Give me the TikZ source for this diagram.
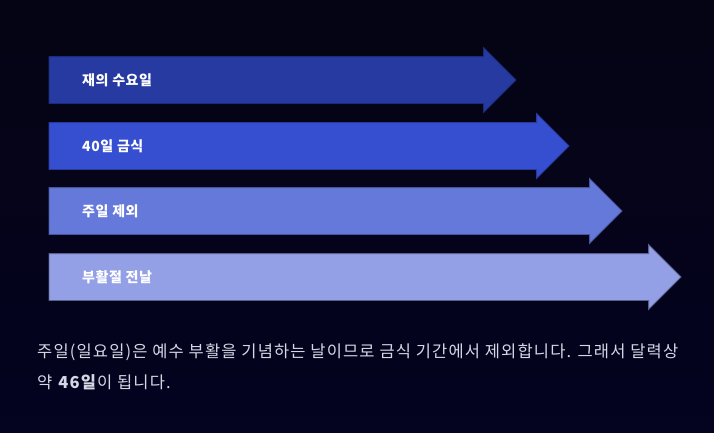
\documentclass[tikz,border=0pt]{standalone}
\usepackage{fontspec}
\setmainfont{Noto Sans CJK KR}
\usepackage{xcolor}
\usetikzlibrary{shapes.arrows, positioning}
\definecolor{BgTop}{RGB}{5,4,20}
\definecolor{BgBot}{RGB}{4,3,32}
\definecolor{StepA}{RGB}{38,58,162}
\definecolor{StepB}{RGB}{53,79,208}
\definecolor{StepC}{RGB}{101,121,219}
\definecolor{StepD}{RGB}{148,160,230}
\definecolor{NoteGray}{RGB}{214,214,228}
\tikzset{
  % frecce orizzontali
  bar/.style={single arrow, anchor=tail, inner sep=0pt, outer sep=0pt,
    text height=46pt, text depth=0pt, minimum width=64pt,
    single arrow head extend=9pt, single arrow tip angle=90, line width=0.8pt},
  bar a/.style={bar, fill=StepA, draw=StepA!75!black},
  bar b/.style={bar, fill=StepB, draw=StepB!75!black},
  bar c/.style={bar, fill=StepC, draw=StepC!70!black},
  bar d/.style={bar, fill=StepD, draw=StepD!60!black},
  % testo
  lbl/.style={anchor=west, inner sep=0pt, text=white,
    font=\fontsize{14}{16}\selectfont\bfseries\addfontfeatures{LetterSpace=4}},
  note/.style={anchor=north west, inner sep=0pt, align=left, text=NoteGray,
    font=\fontsize{16.5}{30.5}\selectfont\addfontfeatures{LetterSpace=7}}
}

\begin{document}
\begin{tikzpicture}[x=1pt, y=-1pt]
    % background
    \shade[top color=BgTop, bottom color=BgBot] (0,0) rectangle (714,432);
    \useasboundingbox (0,0) rectangle (714,432);
    % arrows
    \node[bar a, minimum height=467pt] (a1) at (49,80) {};
    \node[bar b, minimum height=520pt] (a2) at (49,146) {};
    \node[bar c, minimum height=573pt] (a3) at (49,211) {};
    \node[bar d, minimum height=632pt] (a4) at (49,277) {};
    % labels
    \node[lbl, right=33pt of a1.tail] (l1) {재의 수요일};
    \node[lbl, right=33pt of a2.tail] (l2) {40일 금식};
    \node[lbl, right=33pt of a3.tail] (l3) {주일 제외};
    \node[lbl, right=33pt of a4.tail] (l4) {부활절 전날};
    % note
    \node[note] (txt) at (37,344) {주일(일요일)은 예수 부활을 기념하는 날이므로 금식 기간에서 제외합니다. 그래서 달력상\\약 \textbf{46일}이 됩니다.};
\end{tikzpicture}
\end{document}
